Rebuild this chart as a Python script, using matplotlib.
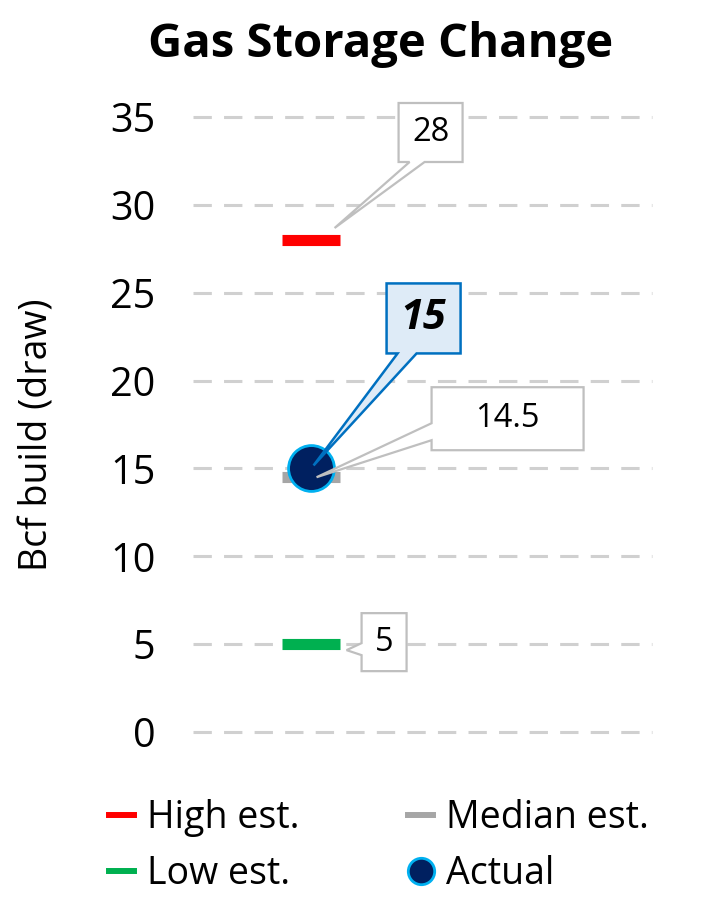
import matplotlib
matplotlib.use("Agg")
import matplotlib.pyplot as plt
from matplotlib.patches import Polygon
from matplotlib.lines import Line2D
from matplotlib.transforms import IdentityTransform
import numpy as np

plt.rcParams['font.family'] = ['Open Sans', 'DejaVu Sans']

title = "Gas Storage Change"
y_label = "Bcf build (draw)"
categories = ["Gas Storage Change"]
high_est = [28]
median_est = [14.5]
low_est = [5]
actual = [15]
y_ticks = [0, 5, 10, 15, 20, 25, 30, 35]
legend_labels = ["High est.", "Median est.", "Low est.", "Actual"]

W, H = 705, 900
fig = plt.figure(figsize=(W / 100, H / 100), dpi=100)
ax = fig.add_axes([193 / W, 1 - 732 / H, (652 - 193) / W, (732 - 117) / H])
ax.set_xlim(-0.52, 1.51)
ax.set_ylim(0, 35)
ax.set_yticks(y_ticks)
ax.set_xticks([])
for s in ax.spines.values():
    s.set_visible(False)
ax.tick_params(axis='y', length=0, pad=27, labelsize=28.5)
for t in y_ticks:
    ax.axhline(t, color='#D0D0D0', linestyle=(0, (6, 4)), linewidth=2.2,
               clip_on=False, zorder=0)

xs = np.arange(len(categories))
w = 0.128
ax.hlines(high_est, xs - w, xs + w, color='#FF0000', lw=8, zorder=3)
ax.hlines(median_est, xs - w, xs + w, color='#A6A6A6', lw=8, zorder=3)
ax.hlines(low_est, xs - w, xs + w, color='#00B050', lw=8, zorder=3)
ax.plot(xs, actual, 'o', ms=33, mfc='#002060', mec='#00B0F0', mew=2, zorder=4,
        clip_on=False)

fig.text(381 / W, 1 - 45 / H, title, ha='center', va='center',
         fontsize=34, fontweight='bold')
fig.text(38 / W, 1 - 435 / H, y_label, ha='center', va='center',
         rotation=90, fontsize=27)


def callout(x, y, text, box, edge, base, tip, fc, ec, lw, **tkw):
    px, py = ax.transData.transform((x, y))
    L, R, B, T = px + box[0], px + box[1], py + box[2], py + box[3]
    tx, ty = px + tip[0], py + tip[1]
    if edge == 'bottom':
        a, b = px + base[0], px + base[1]
        verts = [(L, B), (a, B), (tx, ty), (b, B), (R, B), (R, T), (L, T)]
    else:
        c, d = py + base[0], py + base[1]
        verts = [(L, B), (R, B), (R, T), (L, T), (L, d), (tx, ty), (L, c)]
    poly = Polygon(verts, closed=True, fc=fc, ec=ec, lw=lw,
                   transform=IdentityTransform(), zorder=5, joinstyle='miter')
    fig.add_artist(poly)
    fig.text(((L + R) / 2) / W, ((B + T) / 2) / H, text, ha='center',
             va='center', zorder=6, **tkw)


def fmt(v):
    return f"{v:g}"


callout(xs[0], high_est[0], fmt(high_est[0]), (88, 152, 78, 137), 'bottom',
        (99, 114), (24, 12), 'white', '#BFBFBF', 1.6, fontsize=23.5)
callout(xs[0], actual[0], fmt(actual[0]), (76, 150, 115, 185), 'bottom',
        (87, 106), (3, 3), '#DEEBF7', '#0070C0', 1.8, fontsize=30,
        fontweight='bold', fontstyle='italic')
callout(xs[0], median_est[0], fmt(median_est[0]), (121, 273, 27, 90), 'left',
        (37, 54), (6, 0), 'white', '#BFBFBF', 1.6, fontsize=23.5)
callout(xs[0], low_est[0], fmt(low_est[0]), (51, 96, -27, 31), 'left',
        (-11, 1), (36, -6), 'white', '#BFBFBF', 1.6, fontsize=23.5)

handles = [
    Line2D([], [], color='#FF0000', lw=4.3),
    Line2D([], [], color='#00B050', lw=4.3),
    Line2D([], [], color='#A6A6A6', lw=4.3),
    Line2D([], [], ls='none', marker='o', ms=19, mfc='#002060',
           mec='#00B0F0', mew=2),
]
labels = [legend_labels[0], legend_labels[2], legend_labels[1], legend_labels[3]]
fig.legend(handles, labels, ncol=2, loc='center',
           bbox_to_anchor=(379 / W, 1 - 846 / H), frameon=False, fontsize=27,
           handlelength=0.67, handletextpad=0.35, columnspacing=2.9,
           labelspacing=0.49, borderpad=0, borderaxespad=0)

fig.savefig("out.png", dpi=100)
